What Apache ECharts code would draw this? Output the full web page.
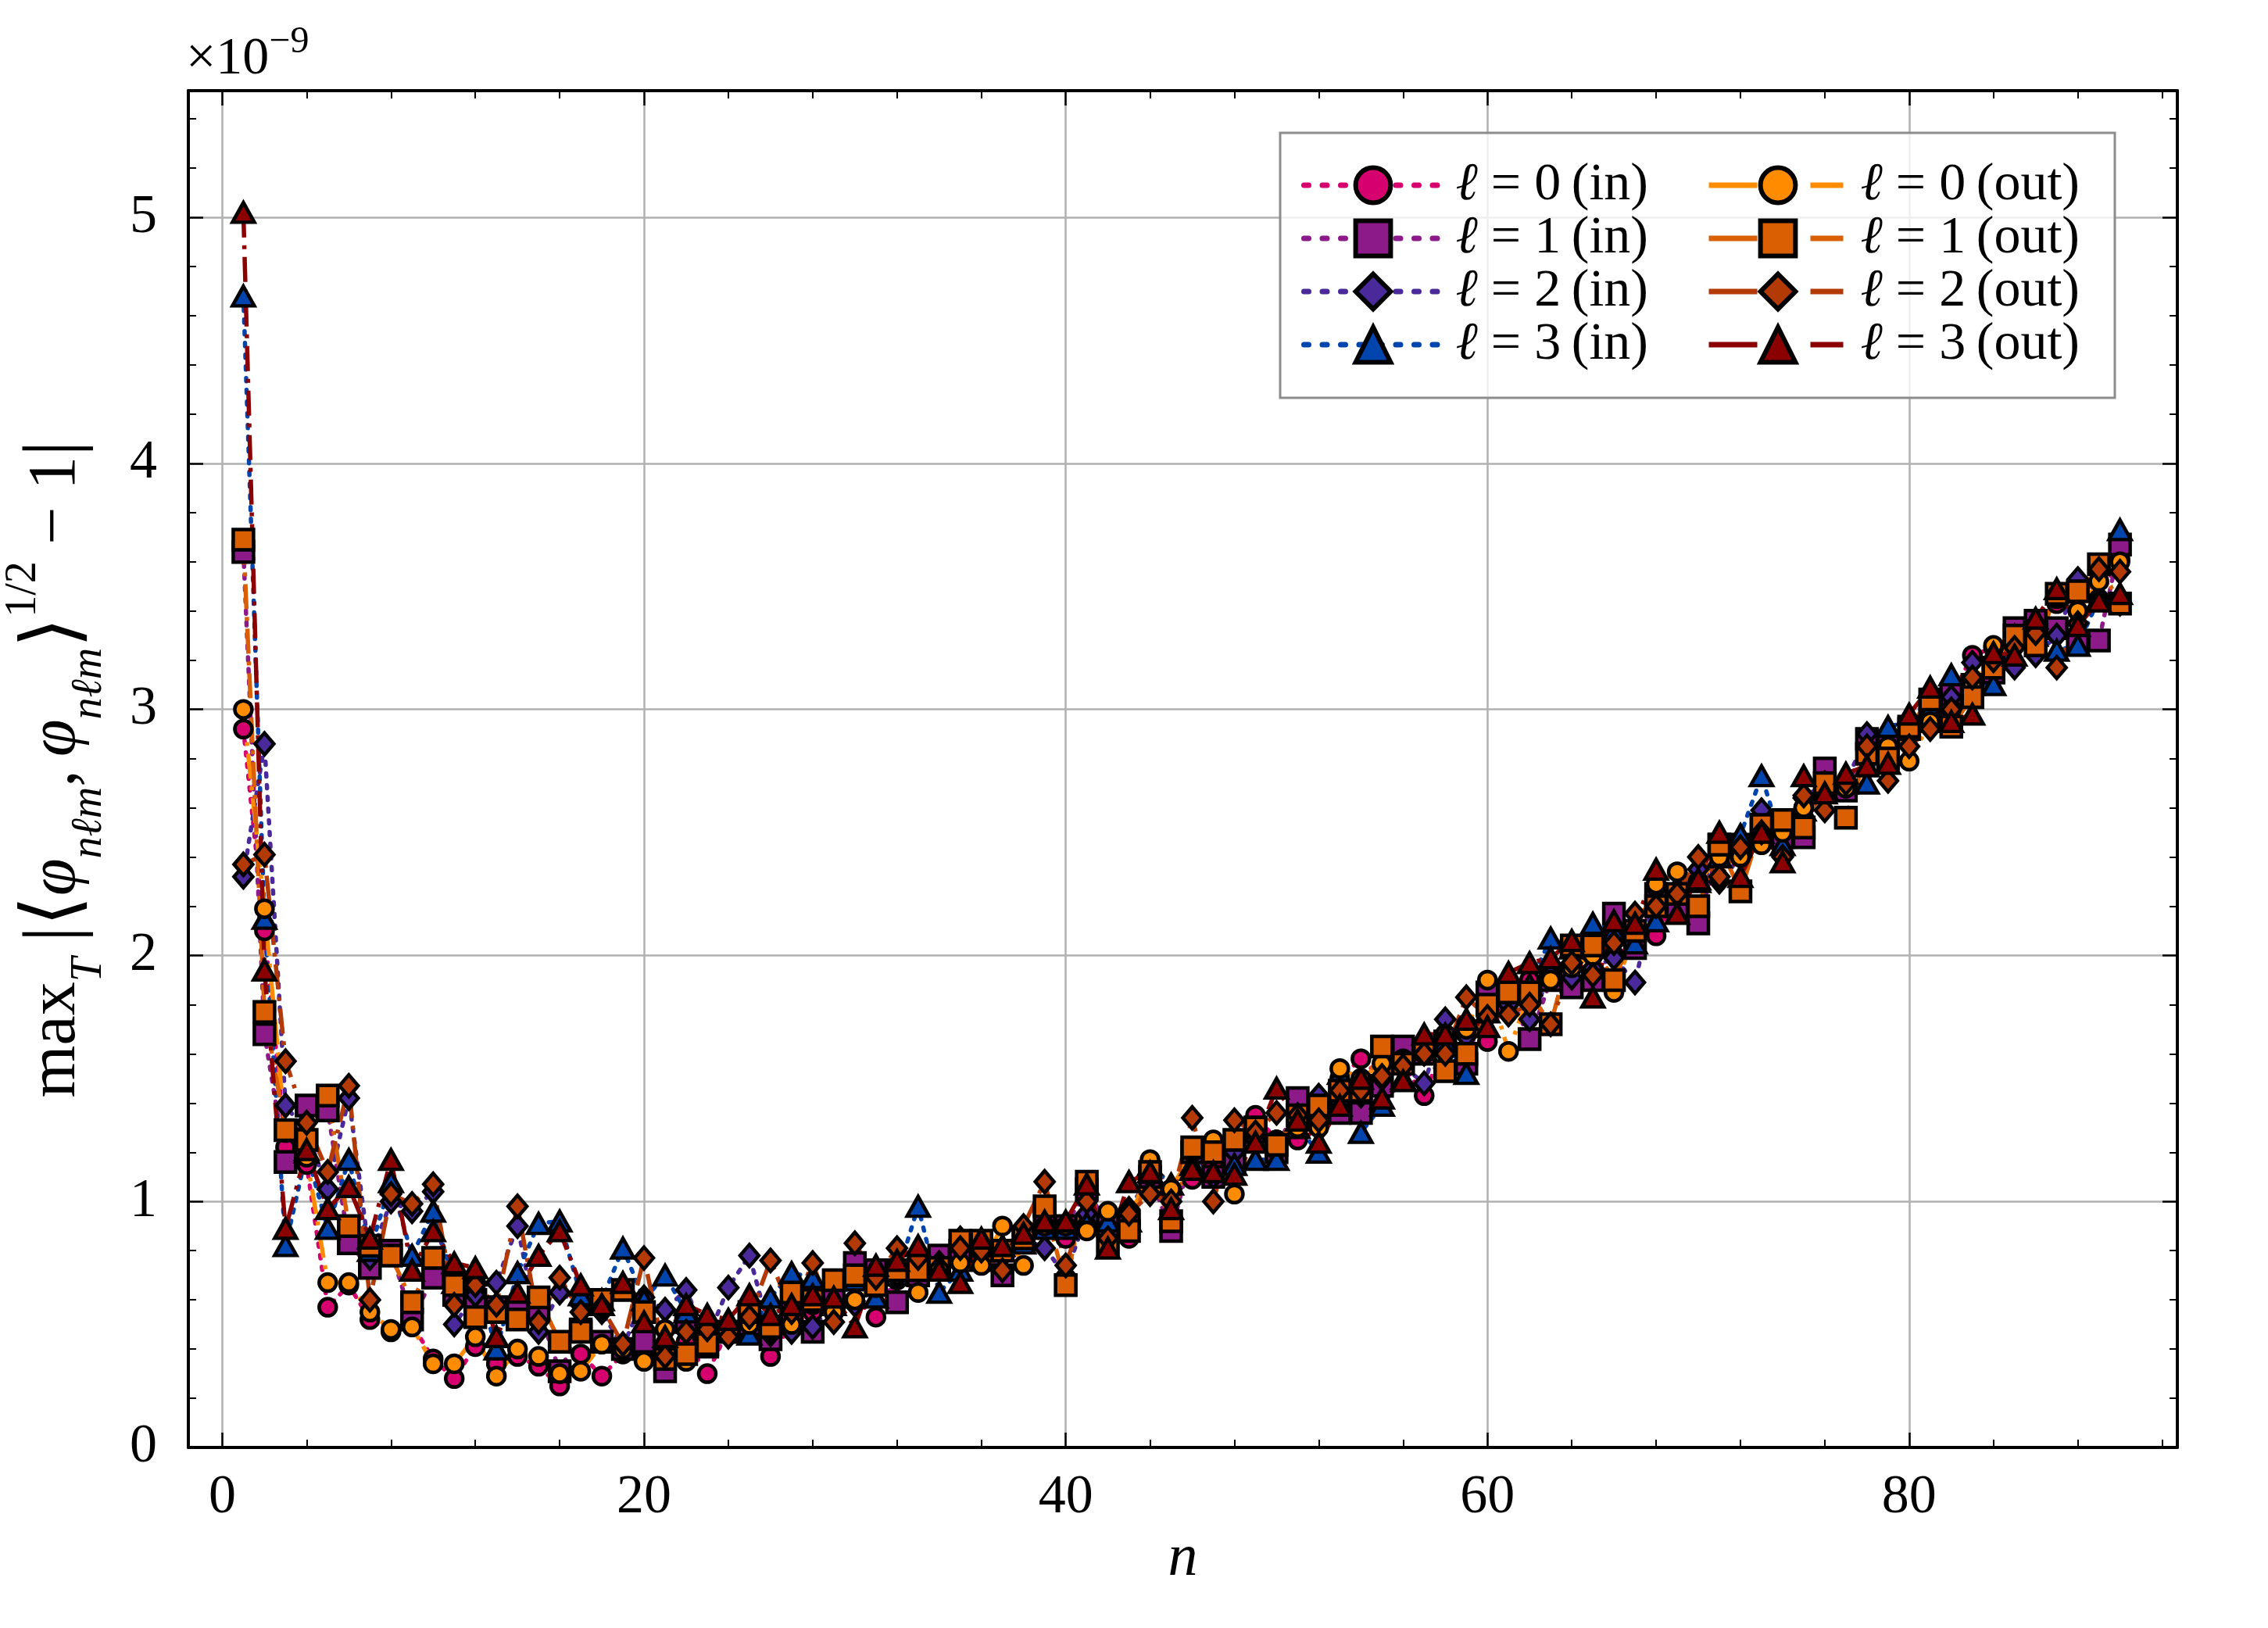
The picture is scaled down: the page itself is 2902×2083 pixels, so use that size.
<!DOCTYPE html>
<html>
<head>
<meta charset="utf-8">
<title>max_T overlap error</title>
<script src="https://cdn.jsdelivr.net/npm/echarts@6.0.0/dist/echarts.min.js"></script>
<style>
  html, body { margin: 0; padding: 0; background: #fff; }
  #main { width: 2902px; height: 2083px; }
</style>
</head>
<body>
<div id="main"></div>
<script>
// n values (x axis)
const nValues = [
  1, 2, 3, 4, 5, 6, 7, 8, 9, 10, 11, 12, 13, 14, 15, 16, 17, 18, 19, 20,
  21, 22, 23, 24, 25, 26, 27, 28, 29, 30, 31, 32, 33, 34, 35, 36, 37, 38, 39, 40,
  41, 42, 43, 44, 45, 46, 47, 48, 49, 50, 51, 52, 53, 54, 55, 56, 57, 58, 59, 60,
  61, 62, 63, 64, 65, 66, 67, 68, 69, 70, 71, 72, 73, 74, 75, 76, 77, 78, 79, 80,
  81, 82, 83, 84, 85, 86, 87, 88, 89, 90
];

// values in units of 1e-9
const l0In = [
  2.92, 2.10, 1.22, 1.15, 0.57, 0.66, 0.52, 0.47, 0.50, 0.36,
  0.28, 0.41, 0.34, 0.37, 0.33, 0.25, 0.38, 0.29, 0.38, 0.37,
  0.33, 0.43, 0.30, 0.48, 0.50, 0.37, 0.50, 0.55, 0.55, 0.60,
  0.53, 0.68, 0.70, 0.72, 0.75, 0.80, 0.80, 0.85, 0.90, 0.85,
  0.90, 0.90, 0.85, 1.16, 1.05, 1.09, 1.15, 1.20, 1.35, 1.25,
  1.25, 1.35, 1.50, 1.58, 1.50, 1.55, 1.43, 1.65, 1.72, 1.65,
  1.85, 1.90, 1.95, 1.95, 2.00, 2.00, 2.05, 2.08, 2.25, 2.30,
  2.40, 2.40, 2.50, 2.45, 2.60, 2.70, 2.68, 2.80, 2.85, 2.90,
  3.00, 3.05, 3.22, 3.25, 3.30, 3.35, 3.43, 3.40, 3.45, 3.61
];
const l1In = [
  3.64, 1.68, 1.16, 1.39, 1.37, 0.83, 0.73, 0.80, 0.52, 0.69,
  0.62, 0.60, 0.57, 0.56, 0.56, 0.31, 0.48, 0.43, 0.40, 0.43,
  0.31, 0.51, 0.41, 0.47, 0.50, 0.44, 0.55, 0.47, 0.60, 0.75,
  0.72, 0.59, 0.70, 0.78, 0.80, 0.82, 0.70, 0.85, 0.95, 0.90,
  1.05, 0.90, 0.92, 1.10, 0.88, 1.20, 1.10, 1.16, 1.30, 1.20,
  1.42, 1.38, 1.36, 1.36, 1.47, 1.63, 1.60, 1.65, 1.56, 1.85,
  1.85, 1.66, 1.90, 1.87, 1.90, 2.17, 2.03, 2.25, 2.20, 2.13,
  2.45, 2.45, 2.53, 2.48, 2.48, 2.76, 2.67, 2.88, 2.87, 2.92,
  3.00, 3.06, 3.10, 3.15, 3.33, 3.36, 3.33, 3.27, 3.28, 3.67
];
const l2In = [
  2.32, 2.86, 1.39, 1.28, 1.05, 1.42, 0.77, 1.00, 0.96, 1.04,
  0.50, 0.62, 0.67, 0.90, 0.47, 0.63, 0.58, 0.55, 0.41, 0.61,
  0.56, 0.64, 0.44, 0.65, 0.78, 0.46, 0.47, 0.49, 0.58, 0.58,
  0.65, 0.70, 0.72, 0.75, 0.85, 0.82, 0.78, 0.85, 0.81, 0.70,
  0.95, 0.90, 0.97, 1.10, 1.05, 1.20, 1.10, 1.20, 1.25, 1.20,
  1.35, 1.43, 1.40, 1.43, 1.50, 1.55, 1.48, 1.74, 1.67, 1.75,
  1.80, 1.74, 1.92, 1.91, 1.95, 1.99, 1.89, 2.27, 2.25, 2.35,
  2.30, 2.40, 2.59, 2.40, 2.64, 2.70, 2.70, 2.90, 2.80, 2.90,
  3.00, 3.05, 3.19, 3.20, 3.17, 3.22, 3.30, 3.53, 3.45, 3.43
];
const l3In = [
  4.68, 2.15, 0.82, 1.20, 0.89, 1.17, 0.80, 1.08, 0.78, 0.96,
  0.67, 0.70, 0.40, 0.71, 0.91, 0.92, 0.62, 0.60, 0.81, 0.60,
  0.70, 0.55, 0.49, 0.49, 0.46, 0.61, 0.71, 0.69, 0.58, 0.68,
  0.61, 0.70, 0.98, 0.63, 0.72, 0.76, 0.80, 0.83, 0.89, 0.89,
  0.91, 0.92, 0.92, 1.15, 1.07, 1.15, 1.12, 1.15, 1.17, 1.17,
  1.30, 1.20, 1.52, 1.28, 1.39, 1.50, 1.62, 1.65, 1.52, 1.77,
  1.88, 1.88, 2.07, 2.03, 2.13, 2.10, 2.05, 2.14, 2.28, 2.30,
  2.40, 2.49, 2.73, 2.45, 2.59, 2.68, 2.70, 2.70, 2.93, 2.95,
  3.00, 3.14, 3.10, 3.10, 3.30, 3.30, 3.24, 3.26, 3.45, 3.73
];
const l0Out = [
  3.00, 2.19, 1.28, 1.18, 0.67, 0.67, 0.55, 0.48, 0.49, 0.34,
  0.34, 0.45, 0.29, 0.40, 0.37, 0.30, 0.31, 0.42, 0.40, 0.35,
  0.48, 0.35, 0.41, 0.47, 0.50, 0.47, 0.50, 0.58, 0.55, 0.60,
  0.65, 0.70, 0.63, 0.73, 0.75, 0.74, 0.90, 0.74, 0.90, 0.90,
  0.88, 0.96, 0.90, 1.17, 1.05, 1.20, 1.25, 1.03, 1.30, 1.25,
  1.30, 1.30, 1.54, 1.50, 1.56, 1.58, 1.60, 1.68, 1.70, 1.90,
  1.61, 1.85, 1.90, 1.95, 2.00, 1.85, 2.10, 2.29, 2.34, 2.30,
  2.40, 2.40, 2.45, 2.50, 2.60, 2.70, 2.68, 2.80, 2.85, 2.79,
  2.95, 3.00, 3.10, 3.26, 3.30, 3.30, 3.45, 3.40, 3.52, 3.60
];
const l1Out = [
  3.69, 1.77, 1.29, 1.25, 1.43, 0.90, 0.82, 0.78, 0.59, 0.77,
  0.66, 0.53, 0.55, 0.52, 0.61, 0.43, 0.47, 0.60, 0.64, 0.55,
  0.36, 0.38, 0.42, 0.47, 0.55, 0.49, 0.63, 0.60, 0.68, 0.70,
  0.66, 0.72, 0.72, 0.73, 0.84, 0.84, 0.80, 0.85, 0.98, 0.66,
  1.08, 0.82, 0.88, 1.12, 0.92, 1.22, 1.20, 1.25, 1.30, 1.23,
  1.35, 1.39, 1.45, 1.45, 1.63, 1.56, 1.62, 1.53, 1.60, 1.80,
  1.85, 1.85, 1.72, 2.04, 2.04, 1.90, 2.10, 2.20, 2.25, 2.20,
  2.45, 2.26, 2.53, 2.55, 2.52, 2.70, 2.56, 2.82, 2.80, 2.93,
  3.04, 2.93, 3.05, 3.17, 3.30, 3.26, 3.47, 3.48, 3.59, 3.43
];
const l2Out = [
  2.37, 2.41, 1.57, 1.32, 1.12, 1.47, 0.60, 1.03, 0.99, 1.07,
  0.58, 0.66, 0.58, 0.98, 0.51, 0.69, 0.55, 0.57, 0.42, 0.77,
  0.37, 0.47, 0.48, 0.45, 0.53, 0.76, 0.55, 0.75, 0.51, 0.83,
  0.69, 0.81, 0.77, 0.73, 0.81, 0.80, 0.72, 0.90, 1.08, 0.74,
  1.00, 0.85, 0.95, 1.03, 1.00, 1.34, 1.00, 1.33, 1.28, 1.36,
  1.35, 1.33, 1.45, 1.45, 1.51, 1.55, 1.60, 1.60, 1.83, 1.75,
  1.76, 1.80, 1.72, 1.97, 1.92, 2.05, 2.17, 2.20, 2.25, 2.40,
  2.32, 2.44, 2.50, 2.40, 2.65, 2.59, 2.70, 2.85, 2.71, 2.85,
  2.92, 3.00, 3.13, 3.20, 3.25, 3.31, 3.17, 3.35, 3.57, 3.56
];
const l3Out = [
  5.02, 1.94, 0.89, 1.21, 0.97, 1.06, 0.85, 1.17, 0.72, 0.88,
  0.75, 0.73, 0.45, 0.63, 0.78, 0.88, 0.66, 0.58, 0.67, 0.51,
  0.45, 0.58, 0.54, 0.52, 0.62, 0.54, 0.58, 0.62, 0.61, 0.49,
  0.74, 0.76, 0.82, 0.72, 0.67, 0.85, 0.82, 0.87, 0.92, 0.92,
  1.07, 0.81, 1.08, 1.12, 0.97, 1.13, 1.12, 1.11, 1.24, 1.46,
  1.33, 1.24, 1.39, 1.50, 1.42, 1.49, 1.68, 1.68, 1.74, 1.71,
  1.93, 1.97, 1.99, 2.06, 1.83, 2.14, 2.13, 2.35, 2.17, 2.31,
  2.50, 2.32, 2.50, 2.38, 2.73, 2.66, 2.74, 2.77, 2.78, 2.98,
  3.09, 2.95, 2.98, 3.23, 3.22, 3.37, 3.49, 3.34, 3.44, 3.47
];

const namesIn = ['ℓ = 0 (in)', 'ℓ = 1 (in)', 'ℓ = 2 (in)', 'ℓ = 3 (in)'];
const namesOut = ['ℓ = 0 (out)', 'ℓ = 1 (out)', 'ℓ = 2 (out)', 'ℓ = 3 (out)'];

const FONT = "'Liberation Serif', 'DejaVu Serif', serif";
const DOTTED = [4, 11];
const DASHDOT = [32, 10, 5, 10];

function lineSeries(name, values, color, symbol, size, dash, cap) {
    return {
        name: name,
        type: 'line',
        data: values.map((v, i) => [nValues[i], v]),
        symbol: symbol,
        symbolSize: size,
        showAllSymbol: true,
        lineStyle: { color: color, width: 5.5, type: dash, cap: cap },
        itemStyle: { color: color, borderColor: '#000', borderWidth: 4.5 },
        emphasis: { disabled: true }
    };
}

const series = [
    lineSeries(namesIn[0], l0In, '#d6006f', 'circle', 22, DOTTED, 'round'),
    lineSeries(namesIn[1], l1In, '#8c1a88', 'rect', 26, DOTTED, 'round'),
    lineSeries(namesIn[2], l2In, '#4a2a9a', 'diamond', [24, 28], DOTTED, 'round'),
    lineSeries(namesIn[3], l3In, '#0044ad', 'triangle', [28, 25], DOTTED, 'round'),
    lineSeries(namesOut[0], l0Out, '#ff8c00', 'circle', 22, DASHDOT, 'butt'),
    lineSeries(namesOut[1], l1Out, '#d95f02', 'rect', 26, DASHDOT, 'butt'),
    lineSeries(namesOut[2], l2Out, '#b33a05', 'diamond', [24, 28], DASHDOT, 'butt'),
    lineSeries(namesOut[3], l3Out, '#8b0000', 'triangle', [28, 25], DASHDOT, 'butt')
];

// legend text: italic ell, upright rest
function legendLabel(name) {
    const rest = name.slice(1).replace(' (', '\u2009(');
    return '{it|ℓ}{rm|' + rest + '}';
}
const legendText = {
    fontFamily: FONT, fontSize: 68, lineHeight: 68, color: '#000',
    padding: [0, 0, 0, 12],
    rich: {
        it: { fontFamily: FONT, fontSize: 68, lineHeight: 68, fontStyle: 'italic' },
        rm: { fontFamily: FONT, fontSize: 68, lineHeight: 68 }
    }
};
function legendBlock(names, left, lineType, cap) {
    return {
        data: names,
        orient: 'vertical',
        left: left,
        top: 203,
        padding: 0,
        itemWidth: 177,
        itemHeight: 56,
        itemGap: 0,
        formatter: legendLabel,
        textStyle: legendText,
        lineStyle: { width: 7, type: lineType, cap: cap },
        itemStyle: { borderColor: '#000', borderWidth: 6 },
        selectedMode: false
    };
}

const tickStyle = { show: true, inside: true, length: 19, lineStyle: { color: '#000', width: 2.5 } };
const minorStyle = { show: true, splitNumber: 5, length: 10, lineStyle: { color: '#000', width: 2 } };
const lineBlack = { show: true, onZero: false, lineStyle: { color: '#000', width: 4 } };
const gridLine = { show: true, lineStyle: { color: '#b0b0b0', width: 2.5 } };
const tickFont = { fontFamily: FONT, fontSize: 70, color: '#000' };

const xRange = { min: -1.61, max: 92.72, minInterval: 20, maxInterval: 20 };
const yRange = { min: 0, max: 5.515, minInterval: 1, maxInterval: 1 };

const option = {
    animation: false,
    backgroundColor: '#fff',
    grid: { left: 241, right: 116, top: 116, bottom: 231, containLabel: false, outerBoundsMode: 'none' },
    xAxis: [
        Object.assign({
            type: 'value', position: 'bottom',
            name: 'n', nameLocation: 'middle', nameGap: 104,
            nameTextStyle: { fontFamily: FONT, fontSize: 76, fontStyle: 'italic', color: '#000' },
            axisLine: lineBlack, axisTick: tickStyle, minorTick: minorStyle,
            splitLine: gridLine,
            axisLabel: Object.assign({ margin: 30, showMinLabel: false, showMaxLabel: false }, tickFont)
        }, xRange),
        Object.assign({
            type: 'value', position: 'top',
            axisLine: lineBlack, axisTick: tickStyle, minorTick: minorStyle,
            splitLine: { show: false }, axisLabel: { show: false }
        }, xRange)
    ],
    yAxis: [
        Object.assign({
            type: 'value', position: 'left',
            name: '{n|max}{sub|T}{d|\u2009|⟨}{it|φ}{sub|nℓm}{n|,\u2009}{it|φ}{sub|nℓm}{d|⟩}{sup|1/2}{n| − 1}{d||}',
            nameLocation: 'middle', nameRotate: 90, nameGap: 99,
            nameTextStyle: {
                fontFamily: FONT, fontSize: 86, color: '#000',
                rich: {
                    n: { fontFamily: FONT, fontSize: 86, lineHeight: 140, verticalAlign: 'middle' },
                    d: { fontFamily: FONT, fontSize: 100, lineHeight: 140, verticalAlign: 'middle' },
                    it: { fontFamily: FONT, fontSize: 86, fontStyle: 'italic', lineHeight: 140, verticalAlign: 'middle' },
                    sub: { fontFamily: FONT, fontSize: 56, fontStyle: 'italic', lineHeight: 56, verticalAlign: 'bottom' },
                    sup: { fontFamily: FONT, fontSize: 56, lineHeight: 44, verticalAlign: 'top' }
                }
            },
            axisLine: lineBlack, axisTick: tickStyle, minorTick: minorStyle,
            splitLine: gridLine,
            axisLabel: Object.assign({ margin: 40, showMaxLabel: false }, tickFont)
        }, yRange),
        Object.assign({
            type: 'value', position: 'right',
            axisLine: lineBlack, axisTick: tickStyle, minorTick: minorStyle,
            splitLine: { show: false }, axisLabel: { show: false }
        }, yRange)
    ],
    legend: [
        legendBlock(namesIn, 1665, [6, 17.5], 'round'),
        legendBlock(namesOut, 2183, [62, 68, 42, 10], 'butt')
    ],
    graphic: [
        {
            type: 'rect', z: 3,
            shape: { x: 1638, y: 170, width: 1068, height: 339 },
            style: { fill: 'rgba(255,255,255,0.8)', stroke: '#8c8c8c', lineWidth: 3 }
        },
        {
            type: 'text', left: 238, top: 30, z: 5,
            style: {
                text: '{m|×10}{s|−9}',
                rich: {
                    m: { fontFamily: FONT, fontSize: 68, lineHeight: 80, verticalAlign: 'bottom' },
                    s: { fontFamily: FONT, fontSize: 48, lineHeight: 42, verticalAlign: 'top' }
                }
            }
        }
    ],
    series: series
};

const chart = echarts.init(document.getElementById('main'), null, { renderer: 'canvas' });
chart.setOption(option);
</script>
</body>
</html>
